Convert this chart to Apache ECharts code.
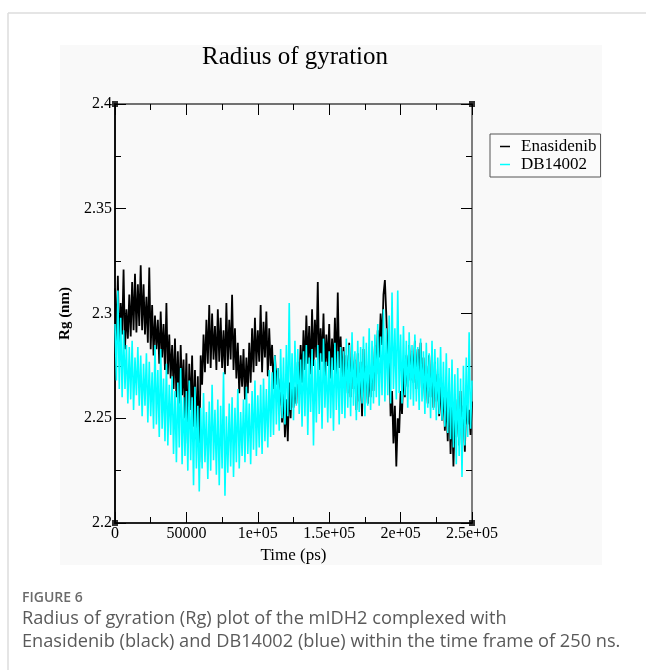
<!DOCTYPE html>
<html>
<head>
<meta charset="utf-8">
<script src="https://cdn.jsdelivr.net/npm/echarts@6/dist/echarts.min.js"></script>
<style>
html,body{margin:0;padding:0;background:#fff;}
#chart{width:646px;height:670px;}
</style>
</head>
<body>
<div id="chart"></div>
<script>
// ---- data ----
const timeStepPs = 1000; // sampling interval of the trajectory (ps)
const xTickLabels = ['0', '50000', '1e+05', '1.5e+05', '2e+05', '2.5e+05'];
const yTickLabels = ['2.2', '2.25', '2.3', '2.35', '2.4'];
const seriesNames = ['Enasidenib', 'DB14002'];

const enasidenibRg = [
2.312,2.286,2.318,2.280,2.305,2.290,2.321,2.283,2.302,2.288,
2.309,2.289,2.315,2.292,2.319,2.291,2.314,2.294,2.323,2.292,
2.314,2.290,2.308,2.286,2.322,2.283,2.304,2.280,2.299,2.283,
2.297,2.276,2.301,2.279,2.295,2.273,2.305,2.271,2.290,2.269,
2.285,2.264,2.288,2.260,2.282,2.257,2.285,2.261,2.278,2.250,
2.281,2.238,2.276,2.254,2.280,2.246,2.273,2.240,2.270,2.229,
2.280,2.266,2.290,2.272,2.297,2.276,2.304,2.274,2.300,2.278,
2.294,2.273,2.302,2.277,2.298,2.274,2.292,2.271,2.305,2.275,
2.297,2.278,2.309,2.273,2.293,2.269,2.286,2.262,2.280,2.265,
2.283,2.259,2.279,2.262,2.286,2.267,2.293,2.272,2.298,2.275,
2.292,2.277,2.304,2.272,2.296,2.279,2.301,2.270,2.293,2.275,
2.285,2.264,2.280,2.266,2.274,2.256,2.269,2.248,2.265,2.241,
2.259,2.239,2.267,2.250,2.272,2.255,2.265,2.257,2.277,2.262,
2.285,2.267,2.292,2.273,2.299,2.276,2.294,2.271,2.302,2.275,
2.297,2.279,2.315,2.273,2.293,2.277,2.300,2.270,2.290,2.275,
2.295,2.269,2.288,2.273,2.298,2.271,2.310,2.274,2.289,2.267,
2.284,2.265,2.280,2.262,2.286,2.260,2.282,2.264,2.278,2.254,
2.281,2.258,2.277,2.251,2.283,2.262,2.275,2.257,2.271,2.260,
2.278,2.263,2.285,2.271,2.292,2.279,2.300,2.285,2.309,2.316,
2.299,2.277,2.282,2.251,2.263,2.238,2.256,2.227,2.250,2.243,
2.263,2.252,2.274,2.260,2.280,2.265,2.285,2.268,2.282,2.267,
2.287,2.264,2.283,2.270,2.286,2.262,2.279,2.259,2.275,2.257,
2.280,2.260,2.273,2.255,2.277,2.258,2.271,2.251,2.269,2.249,
2.265,2.244,2.260,2.239,2.263,2.233,2.257,2.227,2.252,2.241,
2.259,2.237,2.263,2.245,2.256,2.234,2.260,2.247,2.254,2.242,
2.258
];

const db14002Rg = [
2.295,2.268,2.311,2.264,2.298,2.260,2.292,2.264,2.285,2.257,
2.284,2.259,2.287,2.254,2.279,2.261,2.284,2.256,2.280,2.251,
2.276,2.256,2.281,2.248,2.277,2.251,2.272,2.245,2.285,2.247,
2.273,2.241,2.283,2.245,2.269,2.239,2.276,2.237,2.266,2.242,
2.270,2.233,2.263,2.229,2.267,2.236,2.274,2.228,2.260,2.232,
2.263,2.225,2.268,2.230,2.260,2.218,2.265,2.226,2.256,2.215,
2.255,2.226,2.262,2.229,2.253,2.221,2.258,2.225,2.266,2.230,
2.254,2.223,2.259,2.218,2.256,2.226,2.272,2.213,2.251,2.224,
2.257,2.227,2.260,2.222,2.255,2.229,2.264,2.226,2.253,2.232,
2.259,2.229,2.265,2.233,2.257,2.228,2.263,2.235,2.268,2.232,
2.261,2.236,2.266,2.233,2.269,2.239,2.264,2.236,2.273,2.241,
2.272,2.242,2.280,2.247,2.274,2.244,2.283,2.250,2.279,2.247,
2.285,2.251,2.305,2.254,2.281,2.249,2.287,2.256,2.283,2.252,
2.278,2.246,2.282,2.251,2.285,2.242,2.279,2.253,2.283,2.237,
2.278,2.248,2.285,2.252,2.281,2.245,2.288,2.255,2.277,2.248,
2.282,2.250,2.279,2.244,2.286,2.254,2.282,2.247,2.284,2.252,
2.282,2.250,2.288,2.255,2.285,2.251,2.291,2.256,2.282,2.249,
2.287,2.253,2.284,2.257,2.289,2.251,2.286,2.256,2.293,2.254,
2.287,2.257,2.290,2.260,2.295,2.256,2.289,2.261,2.302,2.258,
2.293,2.261,2.299,2.257,2.310,2.264,2.293,2.259,2.311,2.262,
2.290,2.257,2.294,2.261,2.287,2.255,2.291,2.259,2.285,2.256,
2.290,2.258,2.284,2.254,2.288,2.258,2.282,2.252,2.286,2.255,
2.281,2.250,2.287,2.254,2.283,2.249,2.279,2.252,2.284,2.249,
2.277,2.246,2.281,2.243,2.274,2.240,2.278,2.236,2.271,2.228,
2.274,2.232,2.269,2.222,2.275,2.237,2.279,2.241,2.291,2.245,
2.268
];

// ---- build ----
const xMin = 0, xMax = 250000, xStep = 50000;
const yMin = 2.2, yMax = 2.4, yStep = 0.05;
const toPairs = arr => arr.map((v, i) => [i * timeStepPs, v]);
const corners = [[xMin, yMin], [xMax, yMin], [xMin, yMax], [xMax, yMax]];

const serif = '"Liberation Serif", "DejaVu Serif", serif';
const sans = '"Open Sans", "Noto Sans", sans-serif';

const chart = echarts.init(document.getElementById('chart'), null, {renderer: 'canvas'});

const axisCommon = {
  type: 'value',
  splitLine: {show: false},
  axisTick: {show: true, inside: true, length: 11, lineStyle: {color: '#000', width: 1}},
  minorTick: {show: true, splitNumber: 2, length: 6, lineStyle: {color: '#000', width: 1}},
  minorSplitLine: {show: false}
};

chart.setOption({
  animation: false,
  backgroundColor: '#ffffff',
  graphic: [
    {type: 'line', shape: {x1: 8, y1: 13, x2: 646, y2: 13}, style: {stroke: '#dcdcdc', lineWidth: 1.5}, z: -10},
    {type: 'line', shape: {x1: 8, y1: 13, x2: 8, y2: 670}, style: {stroke: '#dcdcdc', lineWidth: 1.5}, z: -10},
    {type: 'rect', shape: {x: 60, y: 45, width: 542, height: 520}, style: {fill: '#f9f9f9'}, z: -10},
    {type: 'text', left: 22, top: 591, style: {text: 'FIGURE 6', font: '600 14px ' + sans, fill: '#6b6b6b'}},
    {type: 'text', left: 22, top: 610, style: {text: 'Radius of gyration (Rg) plot of the mIDH2 complexed with', font: '18.2px ' + sans, fill: '#5a5a5a'}},
    {type: 'text', left: 22, top: 633, style: {text: 'Enasidenib (black) and DB14002 (blue) within the time frame of 250 ns.', font: '18.2px ' + sans, fill: '#5a5a5a'}}
  ],
  title: {
    text: 'Radius of gyration',
    left: 290, top: 40, textAlign: 'center',
    textStyle: {fontFamily: serif, fontSize: 25, fontWeight: 'normal', color: '#000'}
  },
  legend: {
    left: 490, top: 134,
    orient: 'vertical',
    data: seriesNames.map(n => ({name: n, icon: 'rect'})),
    itemWidth: 10, itemHeight: 1.5, itemGap: 1,
    padding: [4, 4, 4, 10],
    borderColor: '#555', borderWidth: 1,
    backgroundColor: '#fbfbfb',
    textStyle: {fontFamily: serif, fontSize: 17, lineHeight: 17, color: '#000', padding: [0, 0, 0, 6]}
  },
  grid: {left: 115, right: 174, top: 104, bottom: 147, containLabel: false},
  xAxis: [
    Object.assign({}, axisCommon, {
      position: 'bottom', min: xMin, max: xMax, interval: xStep,
      name: 'Time (ps)', nameLocation: 'middle', nameGap: 19,
      nameTextStyle: {fontFamily: serif, fontSize: 17, color: '#000'},
      axisLine: {show: true, onZero: false, lineStyle: {color: '#222', width: 2}},
      axisLabel: {fontFamily: serif, fontSize: 16, color: '#000', margin: 3,
        formatter: v => xTickLabels[Math.round((v - xMin) / xStep)]}
    }),
    Object.assign({}, axisCommon, {
      position: 'top', min: xMin, max: xMax, interval: xStep,
      axisLine: {show: true, onZero: false, lineStyle: {color: '#444', width: 1.5}},
      axisLabel: {show: false}
    })
  ],
  yAxis: [
    Object.assign({}, axisCommon, {
      position: 'left', min: yMin, max: yMax, interval: yStep,
      name: 'Rg (nm)', nameLocation: 'middle', nameGap: 28, nameRotate: 90,
      nameTextStyle: {fontFamily: serif, fontSize: 15, fontWeight: 'bold', color: '#000'},
      axisLine: {show: true, onZero: false, lineStyle: {color: '#111', width: 2}},
      axisLabel: {fontFamily: serif, fontSize: 16, color: '#000', margin: 3,
        formatter: v => yTickLabels[Math.round((v - yMin) / yStep)]}
    }),
    Object.assign({}, axisCommon, {
      position: 'right', min: yMin, max: yMax, interval: yStep,
      axisLine: {show: true, onZero: false, lineStyle: {color: '#555', width: 1.5}},
      axisLabel: {show: false}
    })
  ],
  series: [
    {
      name: seriesNames[0], type: 'line', xAxisIndex: 0, yAxisIndex: 0,
      data: toPairs(enasidenibRg), showSymbol: false, symbol: 'none',
      lineStyle: {color: '#000', width: 1.8}, itemStyle: {color: '#000'}, z: 2
    },
    {
      name: seriesNames[1], type: 'line', xAxisIndex: 0, yAxisIndex: 0,
      data: toPairs(db14002Rg), showSymbol: false, symbol: 'none',
      lineStyle: {color: '#00ffff', width: 1.6}, itemStyle: {color: '#00ffff'}, z: 3
    },
    {
      type: 'scatter', xAxisIndex: 0, yAxisIndex: 0, data: corners,
      symbol: 'rect', symbolSize: 6, itemStyle: {color: '#000'}, silent: true, clip: false, z: 5
    }
  ]
});
</script>
</body>
</html>
